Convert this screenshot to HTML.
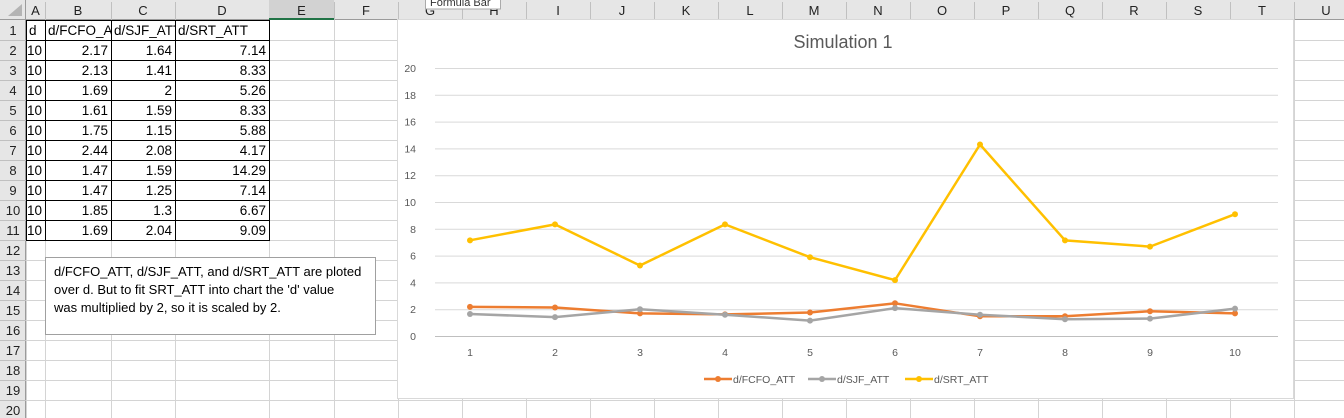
<!DOCTYPE html>
<html><head><meta charset="utf-8"><style>
html,body{margin:0;padding:0;background:#fff;overflow:hidden}
svg{display:block;font-family:"Liberation Sans",sans-serif}
</style></head><body>
<svg id="s" width="1344" height="418" xmlns="http://www.w3.org/2000/svg"></svg>
<script>
const categories=[1,2,3,4,5,6,7,8,9,10];
const fcfo=[2.17,2.13,1.69,1.61,1.75,2.44,1.47,1.47,1.85,1.69];
const sjf=[1.64,1.41,2,1.59,1.15,2.08,1.59,1.25,1.3,2.04];
const srt=[7.14,8.33,5.26,8.33,5.88,4.17,14.29,7.14,6.67,9.09];
const yTicks=[0,2,4,6,8,10,12,14,16,18,20];
const seriesNames=["d/FCFO_ATT","d/SJF_ATT","d/SRT_ATT"];
const colors=["#ED7D31","#A5A5A5","#FFC000"];

const s=document.getElementById('s');
const NS="http://www.w3.org/2000/svg";
function el(tag,attrs,parent,text){const e=document.createElementNS(NS,tag);for(const k in attrs)e.setAttribute(k,attrs[k]);if(text!==undefined)e.textContent=text;(parent||s).appendChild(e);return e;}

const colNames=["A","B","C","D","E","F","G","H","I","J","K","L","M","N","O","P","Q","R","S","T","U"];
const colEdges=[26,45,111,175,269,334,398,462,526,590,654,718,782,846,910,974,1038,1102,1166,1230,1294,1358];
const rowH=20, hdrH=20;
const defs=el('defs',{},s);
for(let c=0;c<4;c++){const cp=el('clipPath',{id:'cc'+c},defs);el('rect',{x:colEdges[c]+1,y:hdrH,width:colEdges[c+1]-colEdges[c]-1,height:rowH},cp);}
const grid=el('g',{},s);


for(let i=0;i<colEdges.length;i++) el('line',{x1:colEdges[i]+0.5,y1:hdrH,x2:colEdges[i]+0.5,y2:418,stroke:'#d4d4d4'},grid);
for(let r=1;r<=20;r++) el('line',{x1:0,y1:hdrH+r*rowH+0.5,x2:1344,y2:hdrH+r*rowH+0.5,stroke:'#d4d4d4'},grid);
el('rect',{x:0,y:0,width:1344,height:hdrH,fill:'#e6e6e6'});
el('rect',{x:0,y:hdrH,width:26,height:418,fill:'#e6e6e6'});
el('line',{x1:0,y1:hdrH-0.5,x2:1344,y2:hdrH-0.5,stroke:'#9b9b9b'});
el('line',{x1:25.5,y1:0,x2:25.5,y2:418,stroke:'#9b9b9b'});
el('polygon',{points:'8,16 22,16 22,4',fill:'#b4b4b4'});
for(let i=0;i<colNames.length;i++){
  const x0=colEdges[i],x1=colEdges[i+1];
  if(i===4){el('rect',{x:x0,y:0,width:x1-x0,height:hdrH,fill:'#d2d2d2'});el('rect',{x:x0,y:hdrH-2,width:x1-x0,height:2,fill:'#217346'});}
  el('line',{x1:x1+0.5,y1:2,x2:x1+0.5,y2:hdrH,stroke:'#c0c0c0'});
  const t=el('text',{x:(x0+x1)/2,y:15,'text-anchor':'middle','font-size':13,fill:'#222'},s,colNames[i]);
  
  
}
for(let r=1;r<=20;r++){
  el('line',{x1:0,y1:hdrH+r*rowH+0.5,x2:26,y2:hdrH+r*rowH+0.5,stroke:'#c0c0c0'});
  const t=el('text',{x:13,y:hdrH+(r-1)*rowH+15,'text-anchor':'middle','font-size':13,fill:'#222'},s,String(r));
  
  
}
const tbl=el('g',{},s);


const heads=["d","d/FCFO_A","d/SJF_ATT","d/SRT_ATT"];
for(let c=0;c<4;c++) el('text',{x:colEdges[c]+3,y:hdrH+15,'font-size':13.5,fill:'#000','clip-path':'url(#cc'+c+')'},tbl,heads[c]);
for(let r=0;r<10;r++){
  const y=hdrH+(r+1)*rowH+15;
  const vals=[10,fcfo[r],sjf[r],srt[r]];
  for(let c=0;c<4;c++) el('text',{x:colEdges[c+1]-3,y:y,'text-anchor':'end','font-size':13.5,fill:'#000'},tbl,String(vals[c]));
}
for(let c=0;c<=4;c++) el('line',{x1:colEdges[c]+0.5,y1:hdrH,x2:colEdges[c]+0.5,y2:hdrH+11*rowH,stroke:'#000'},tbl);
for(let r=0;r<=11;r++) el('line',{x1:colEdges[0],y1:hdrH+r*rowH+0.5,x2:colEdges[4]+1,y2:hdrH+r*rowH+0.5,stroke:'#000'},tbl);
const nb=el('g',{},s);


el('rect',{x:45.5,y:257.5,width:330,height:77,fill:'#fff',stroke:'#a0a0a0'},nb);
["d/FCFO_ATT, d/SJF_ATT, and d/SRT_ATT are ploted","over d. But to fit SRT_ATT into chart the 'd' value","was multiplied by 2, so it is scaled by 2."].forEach((l,i)=>el('text',{x:54,y:276+i*18,'font-size':13,fill:'#000'},nb,l));
const ch=el('g',{},s);


el('rect',{x:397.5,y:19.5,width:896,height:379,fill:'#fff',stroke:'#d9d9d9'},ch);
const title=el('text',{x:843,y:48,'text-anchor':'middle','font-size':18,fill:'#595959'},ch,'Simulation 1');


const yS=v=>336-v*13.4, xS=i=>470+i*85;
yTicks.forEach(t=>{
  el('line',{x1:435,x2:1278,y1:yS(t)+0.5,y2:yS(t)+0.5,stroke:t===0?'#bfbfbf':'#d9d9d9'},ch);
  const tl=el('text',{x:416,y:yS(t)+4,'text-anchor':'end','font-size':10.5,fill:'#595959'},ch,String(t));
  
  
});
categories.forEach((c,i)=>{
  const tl=el('text',{x:xS(i),y:356,'text-anchor':'middle','font-size':10.5,fill:'#595959'},ch,String(c));
  
  
});
[fcfo,sjf,srt].forEach((d,si)=>{
  const g=el('g',{},ch);
  
  
  el('polyline',{points:d.map((v,i)=>xS(i)+','+yS(v)).join(' '),fill:'none',stroke:colors[si],'stroke-width':2.5,'stroke-linejoin':'round'},g);
  d.forEach((v,i)=>{
    const p=el('circle',{cx:xS(i),cy:yS(v),r:3,fill:colors[si]},g);
    
    
  });
});
const legX=[704,808,905];
seriesNames.forEach((n,i)=>{
  const g=el('g',{},ch);
  
  
  el('line',{x1:legX[i],x2:legX[i]+28,y1:379,y2:379,stroke:colors[i],'stroke-width':2.5},g);
  el('circle',{cx:legX[i]+14,cy:379,r:3,fill:colors[i]},g);
  el('text',{x:legX[i]+29,y:383,'font-size':10.5,fill:'#595959'},g,n);
});
const tip=el('g',{},s);


el('rect',{x:425.5,y:-5,width:75,height:14,fill:'#fff',stroke:'#aaa'},tip);
el('text',{x:430,y:6,'font-size':11,fill:'#333'},tip,'Formula Bar');
</script>
</body></html>
